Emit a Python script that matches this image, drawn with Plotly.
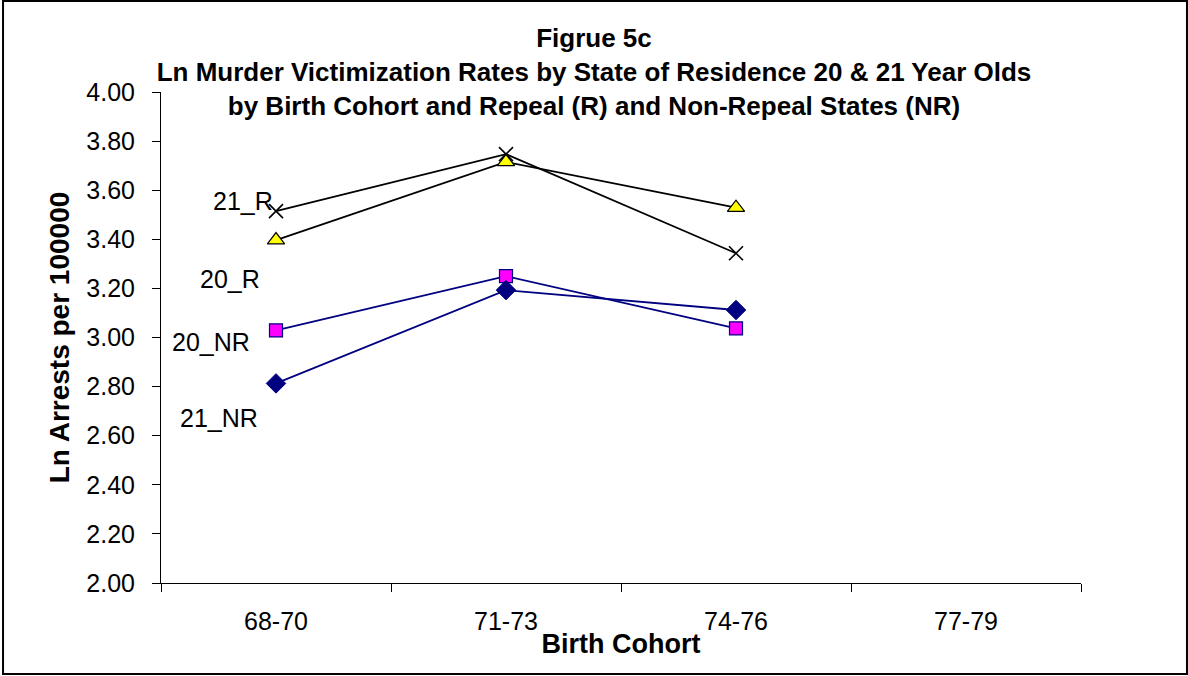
import plotly.graph_objects as go

categories = ["68-70", "71-73", "74-76", "77-79"]
r21 = [3.515, 3.747, 3.343]
r20 = [3.397, 3.715, 3.529]
nr20 = [3.029, 3.250, 3.037]
nr21 = [2.813, 3.193, 3.112]
y_ticks = [2.0, 2.2, 2.4, 2.6, 2.8, 3.0, 3.2, 3.4, 3.6, 3.8, 4.0]
labels = ["21_R", "20_R", "20_NR", "21_NR"]
label_pos = [(-0.143, 3.555), (-0.200, 3.238), (-0.283, 2.98), (-0.247, 2.672)]

FONT = "Liberation Sans, Arial, sans-serif"
fig = go.Figure()

fig.add_trace(go.Scatter(x=categories[:3], y=r21, mode="lines+markers",
    line=dict(color="black", width=1.8),
    marker=dict(symbol="x-thin", size=14, line=dict(color="black", width=1.6)),
    showlegend=False))
fig.add_trace(go.Scatter(x=categories[:3], y=r20, mode="lines+markers",
    line=dict(color="black", width=1.8),
    marker=dict(symbol="triangle-up", size=15, color="#FFFF00", line=dict(color="black", width=1.2)),
    showlegend=False))
fig.add_trace(go.Scatter(x=categories[:3], y=nr20, mode="lines+markers",
    line=dict(color="#000080", width=1.8),
    marker=dict(symbol="square", size=13, color="#FF00FF", line=dict(color="#000080", width=1.2)),
    showlegend=False))
fig.add_trace(go.Scatter(x=categories[:3], y=nr21, mode="lines+markers",
    line=dict(color="#000080", width=1.8),
    marker=dict(symbol="diamond", size=15, color="#000080", line=dict(color="#000080", width=1)),
    showlegend=False))

for t, (ax, ay) in zip(labels, label_pos):
    fig.add_annotation(x=ax, y=ay, xref="x", yref="y", text=t, showarrow=False,
                       font=dict(family=FONT, size=25, color="black"))

fig.add_shape(type="rect", xref="paper", yref="paper",
              x0=-0.1717, x1=1.1152, y0=-0.1853, y1=1.1853,
              line=dict(color="black", width=2), fillcolor="rgba(0,0,0,0)")

fig.update_layout(
    width=1188, height=676,
    margin=dict(l=161, r=107, t=92, b=93),
    paper_bgcolor="white", plot_bgcolor="white",
    font=dict(family=FONT, color="black"),
    title=dict(
        text="<b>Figrue 5c<br>Ln Murder Victimization Rates by State of Residence 20 &amp; 21 Year Olds<br>by Birth Cohort and Repeal (R) and Non-Repeal States (NR)</b>",
        x=0.5, xref="container", xanchor="center", y=0.930, yref="container", yanchor="middle",
        font=dict(family=FONT, size=26, color="black")),
    xaxis=dict(
        type="category", categoryorder="array", categoryarray=categories,
        range=[-0.5, 3.5], tickson="boundaries", ticks="outside", ticklen=8,
        tickcolor="black", showline=True, linecolor="black", linewidth=1,
        showgrid=False, zeroline=False, tickfont=dict(size=25), ticklabelstandoff=16,
        title=dict(text="<b>Birth Cohort</b>", font=dict(size=27), standoff=0)),
    yaxis=dict(
        range=[2.0, 4.0], tickvals=y_ticks, tickformat=".2f", ticks="outside",
        ticklen=8, tickcolor="black", showline=True, linecolor="black", linewidth=1,
        showgrid=False, zeroline=False, tickfont=dict(size=25), ticklabelstandoff=12,
        title=dict(text="<b>Ln Arrests per 100000</b>", font=dict(size=28), standoff=8)),
)

fig.write_html("out.html", config={"displayModeBar": False},
               post_script="document.body.style.margin='0';document.body.style.overflow='hidden';")
